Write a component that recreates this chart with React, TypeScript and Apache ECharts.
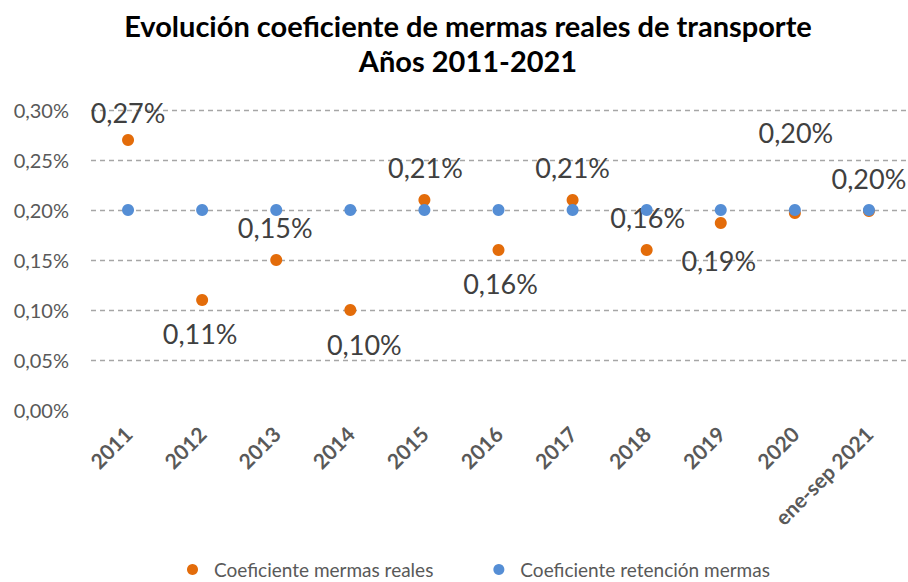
import React, { useEffect, useRef } from "react";
import * as echarts from "echarts";

const categories = ["2011", "2012", "2013", "2014", "2015", "2016", "2017", "2018", "2019", "2020", "ene-sep 2021"];
const mermasReales = [0.27, 0.11, 0.15, 0.10, 0.21, 0.16, 0.21, 0.16, 0.187, 0.197, 0.199];
const retencionMermas = [0.20, 0.20, 0.20, 0.20, 0.20, 0.20, 0.20, 0.20, 0.20, 0.20, 0.20];
const yTicks = [0, 0.05, 0.1, 0.15, 0.2, 0.25, 0.3];
// label placement per point (style)
const labelOffsets: [number, number][] = [
  [0, -28], [-2, 33], [-1, -33], [14, 34], [1, -33], [2, 33], [0, -33], [1, -33], [-2, 37], [1, -81], [0, -33],
];

const fmt = (v: number) => v.toFixed(2).replace(".", ",") + "%";

export default function App() {
  const ref = useRef<HTMLDivElement>(null);
  useEffect(() => {
    if (!ref.current) return;
    const chart = echarts.init(ref.current, null, { renderer: "svg" });
    const gray = "#595959";
    chart.setOption({
      animation: false,
      backgroundColor: "#ffffff",
      title: {
        text: "Evolución coeficiente de mermas reales de transporte\nAños 2011-2021",
        left: 463,
        textAlign: "center",
        top: 3,
        textStyle: { fontFamily: "Lato", fontWeight: "bold", fontSize: 29, color: "#000", lineHeight: 35 },
      },
      legend: {
        top: 560,
        left: 187,
        padding: 0,
        icon: "circle",
        itemWidth: 11,
        itemHeight: 11,
        itemGap: 60,
        textStyle: { fontFamily: "Lato", fontSize: 19, color: gray, padding: [0, 0, 0, 11] },
        data: ["Coeficiente mermas reales", "Coeficiente retención mermas"],
      },
      grid: { left: 91, right: 2, top: 110, bottom: 172 },
      xAxis: {
        type: "category",
        data: categories,
        boundaryGap: true,
        axisLine: { show: false },
        axisTick: { show: false },
        axisLabel: {
          rotate: 45,
          interval: 0,
          margin: 20,
          fontFamily: "Lato",
          fontWeight: "bold",
          fontSize: 21,
          color: gray,
        },
      },
      yAxis: {
        type: "value",
        min: yTicks[0],
        max: yTicks[yTicks.length - 1],
        interval: 0.05,
        axisLine: { show: false },
        axisTick: { show: false },
        axisLabel: {
          formatter: (v: number) => fmt(v),
          fontFamily: "Lato",
          fontSize: 20,
          color: gray,
          margin: 22,
        },
        splitLine: {
          lineStyle: {
            type: [5, 4],
            width: 1.3,
            color: ["rgba(0,0,0,0)", "#a6a6a6", "#a6a6a6", "#a6a6a6", "#a6a6a6", "#a6a6a6", "#a6a6a6"],
          },
        },
      },
      series: [
        {
          name: "Coeficiente mermas reales",
          type: "scatter",
          symbolSize: 12,
          itemStyle: { color: "#E36C0A", opacity: 1 },
          data: mermasReales.map((v, i) => ({
            value: v,
            label: {
              show: true,
              position: "inside",
              offset: labelOffsets[i],
              formatter: fmt(v),
              fontFamily: "Lato",
              fontSize: 27,
              color: "#404040",
            },
          })),
          z: 2,
        },
        {
          name: "Coeficiente retención mermas",
          type: "scatter",
          symbolSize: 12,
          itemStyle: { color: "#558ED5", opacity: 1 },
          data: retencionMermas,
          z: 3,
        },
      ],
    });
    return () => chart.dispose();
  }, []);
  return <div ref={ref} style={{ position: "absolute", left: 0, top: 0, width: 908, height: 582 }} />;
}
